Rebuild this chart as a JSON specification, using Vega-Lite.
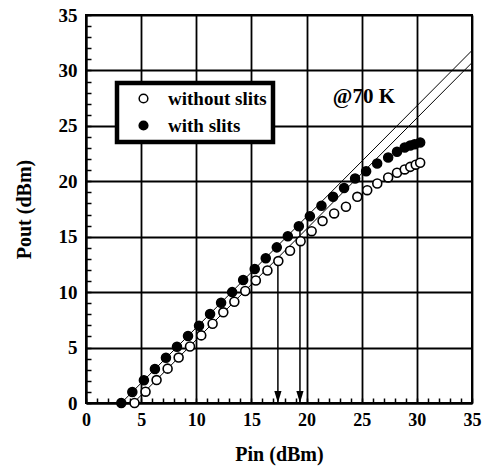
{
  "$schema": "https://vega.github.io/schema/vega-lite/v6.json",
  "width": 386,
  "height": 388,
  "autosize": "none",
  "padding": {"left": 86, "top": 15, "right": 16, "bottom": 67},
  "background": "white",
  "config": {
    "font": "Liberation Serif",
    "view": {"stroke": "black", "strokeWidth": 2},
    "axis": {
      "domainColor": "black",
      "domainWidth": 2,
      "gridColor": "black",
      "gridWidth": 1.8,
      "tickColor": "black",
      "tickWidth": 1.5,
      "tickSize": -5,
      "labelFont": "Liberation Serif",
      "labelFontWeight": "bold",
      "labelColor": "black",
      "labelOverlap": false,
      "labelFlush": false,
      "titleFont": "Liberation Serif",
      "titleFontSize": 20,
      "titleFontWeight": "bold",
      "titleColor": "black"
    },
    "legend": {
      "orient": "none",
      "legendX": 31,
      "legendY": 68,
      "strokeColor": "black",
      "strokeWidth": 4.5,
      "fillColor": "white",
      "padding": 6,
      "symbolOffset": 11,
      "labelOffset": 15,
      "labelFont": "Liberation Serif",
      "labelFontSize": 19,
      "labelFontWeight": "bold",
      "labelColor": "black",
      "rowPadding": 7,
      "symbolSize": 75,
      "symbolType": "circle",
      "symbolStrokeColor": "black",
      "symbolStrokeWidth": 1.5
    }
  },
  "datasets": {
    "meas": [
      {"series": "with slits", "pin": 3.2, "pout": 0},
      {"series": "with slits", "pin": 4.2, "pout": 1.0},
      {"series": "with slits", "pin": 5.25, "pout": 2.05},
      {"series": "with slits", "pin": 6.25, "pout": 3.07},
      {"series": "with slits", "pin": 7.25, "pout": 4.08},
      {"series": "with slits", "pin": 8.25, "pout": 5.08},
      {"series": "with slits", "pin": 9.25, "pout": 6.04},
      {"series": "with slits", "pin": 10.25, "pout": 6.97},
      {"series": "with slits", "pin": 11.25, "pout": 8.03},
      {"series": "with slits", "pin": 12.25, "pout": 9.05},
      {"series": "with slits", "pin": 13.25, "pout": 10.0},
      {"series": "with slits", "pin": 14.25, "pout": 11.09},
      {"series": "with slits", "pin": 15.3, "pout": 12.08},
      {"series": "with slits", "pin": 16.3, "pout": 13.05},
      {"series": "with slits", "pin": 17.3, "pout": 14.04},
      {"series": "with slits", "pin": 18.3, "pout": 15.05},
      {"series": "with slits", "pin": 19.3, "pout": 15.95},
      {"series": "with slits", "pin": 20.3, "pout": 16.85},
      {"series": "with slits", "pin": 21.35, "pout": 17.8},
      {"series": "with slits", "pin": 22.4, "pout": 18.6},
      {"series": "with slits", "pin": 23.4, "pout": 19.4},
      {"series": "with slits", "pin": 24.4, "pout": 20.25},
      {"series": "with slits", "pin": 25.4, "pout": 20.9},
      {"series": "with slits", "pin": 26.4, "pout": 21.6},
      {"series": "with slits", "pin": 27.4, "pout": 22.15},
      {"series": "with slits", "pin": 28.2, "pout": 22.66},
      {"series": "with slits", "pin": 28.9, "pout": 23.05},
      {"series": "with slits", "pin": 29.4, "pout": 23.23},
      {"series": "with slits", "pin": 29.8, "pout": 23.35},
      {"series": "with slits", "pin": 30.3, "pout": 23.5},
      {"series": "without slits", "pin": 4.4, "pout": 0},
      {"series": "without slits", "pin": 5.4, "pout": 1.02},
      {"series": "without slits", "pin": 6.4, "pout": 2.07},
      {"series": "without slits", "pin": 7.4, "pout": 3.1},
      {"series": "without slits", "pin": 8.4, "pout": 4.1},
      {"series": "without slits", "pin": 9.43, "pout": 5.1},
      {"series": "without slits", "pin": 10.45, "pout": 6.1},
      {"series": "without slits", "pin": 11.48, "pout": 7.15},
      {"series": "without slits", "pin": 12.45, "pout": 8.18},
      {"series": "without slits", "pin": 13.45, "pout": 9.13},
      {"series": "without slits", "pin": 14.44, "pout": 10.1},
      {"series": "without slits", "pin": 15.4, "pout": 11.05},
      {"series": "without slits", "pin": 16.45, "pout": 11.95},
      {"series": "without slits", "pin": 17.44, "pout": 12.8},
      {"series": "without slits", "pin": 18.5, "pout": 13.73},
      {"series": "without slits", "pin": 19.46, "pout": 14.6},
      {"series": "without slits", "pin": 20.46, "pout": 15.5},
      {"series": "without slits", "pin": 21.45, "pout": 16.41},
      {"series": "without slits", "pin": 22.5, "pout": 17.1},
      {"series": "without slits", "pin": 23.57, "pout": 17.7},
      {"series": "without slits", "pin": 24.6, "pout": 18.6},
      {"series": "without slits", "pin": 25.5, "pout": 19.2},
      {"series": "without slits", "pin": 26.41, "pout": 19.8},
      {"series": "without slits", "pin": 27.4, "pout": 20.35},
      {"series": "without slits", "pin": 28.2, "pout": 20.77},
      {"series": "without slits", "pin": 28.9, "pout": 21.07},
      {"series": "without slits", "pin": 29.4, "pout": 21.3},
      {"series": "without slits", "pin": 29.9, "pout": 21.5},
      {"series": "without slits", "pin": 30.3, "pout": 21.67}
    ],
    "fits": [
      {"fit": "with slits", "pin": 3.2, "pout": 0},
      {"fit": "with slits", "pin": 35, "pout": 31.8},
      {"fit": "without slits", "pin": 4.3, "pout": 0},
      {"fit": "without slits", "pin": 35, "pout": 30.7}
    ],
    "arrows": [
      {"pin": 17.4, "pout": 12.8, "bottom": 0},
      {"pin": 19.4, "pout": 16.0, "bottom": 0}
    ],
    "heads": [
      {"pin": 17.4, "pout": 0},
      {"pin": 19.4, "pout": 0}
    ],
    "notes": [
      {"pin": 25.2, "pout": 27.6, "text": "@70 K"}
    ]
  },
  "encoding": {
    "x": {
      "field": "pin", "type": "quantitative",
      "scale": {"domain": [0, 35], "nice": false, "zero": false},
      "title": "Pin (dBm)",
      "axis": {
        "values": [0,1,2,3,4,5,6,7,8,9,10,11,12,13,14,15,16,17,18,19,20,21,22,23,24,25,26,27,28,29,30,31,32,33,34,35],
        "labelExpr": "datum.value % 5 === 0 ? datum.label : ''",
        "gridOpacity": {"condition": {"test": "datum.value % 5 === 0", "value": 1}, "value": 0},
        "labelFontSize": 18,
        "labelPadding": 13,
        "titlePadding": 15
      }
    },
    "y": {
      "field": "pout", "type": "quantitative",
      "scale": {"domain": [0, 35], "nice": false, "zero": false},
      "title": "Pout (dBm)",
      "axis": {
        "values": [0,1,2,3,4,5,6,7,8,9,10,11,12,13,14,15,16,17,18,19,20,21,22,23,24,25,26,27,28,29,30,31,32,33,34,35],
        "labelExpr": "datum.value % 5 === 0 ? datum.label : ''",
        "gridOpacity": {"condition": {"test": "datum.value % 5 === 0", "value": 1}, "value": 0},
        "labelFontSize": 19,
        "labelPadding": 14,
        "titlePadding": 24
      }
    }
  },
  "layer": [
    {
      "data": {"name": "fits"},
      "mark": {"type": "line", "color": "black", "strokeWidth": 1, "clip": true},
      "encoding": {
        "detail": {"field": "fit"}
      }
    },
    {
      "data": {"name": "arrows"},
      "mark": {"type": "rule", "color": "black", "strokeWidth": 1.5},
      "encoding": {
        "y2": {"field": "bottom"}
      }
    },
    {
      "data": {"name": "heads"},
      "mark": {"type": "point", "shape": "M-0.6,-2L0.6,-2L0,0Z", "size": 144, "filled": true, "color": "black", "opacity": 1}
    },
    {
      "data": {"name": "meas"},
      "mark": {"type": "point", "shape": "circle", "size": 80, "stroke": "black", "strokeWidth": 1.6, "opacity": 1, "fillOpacity": 1},
      "encoding": {
        "fill": {
          "field": "series", "type": "nominal",
          "scale": {"domain": ["without slits", "with slits"], "range": ["white", "black"]},
          "legend": {"title": null}
        }
      }
    },
    {
      "data": {"name": "notes"},
      "mark": {"type": "text", "font": "Liberation Serif", "fontSize": 21, "fontWeight": "bold", "color": "black", "align": "center", "baseline": "middle"},
      "encoding": {
        "text": {"field": "text"}
      }
    }
  ]
}
